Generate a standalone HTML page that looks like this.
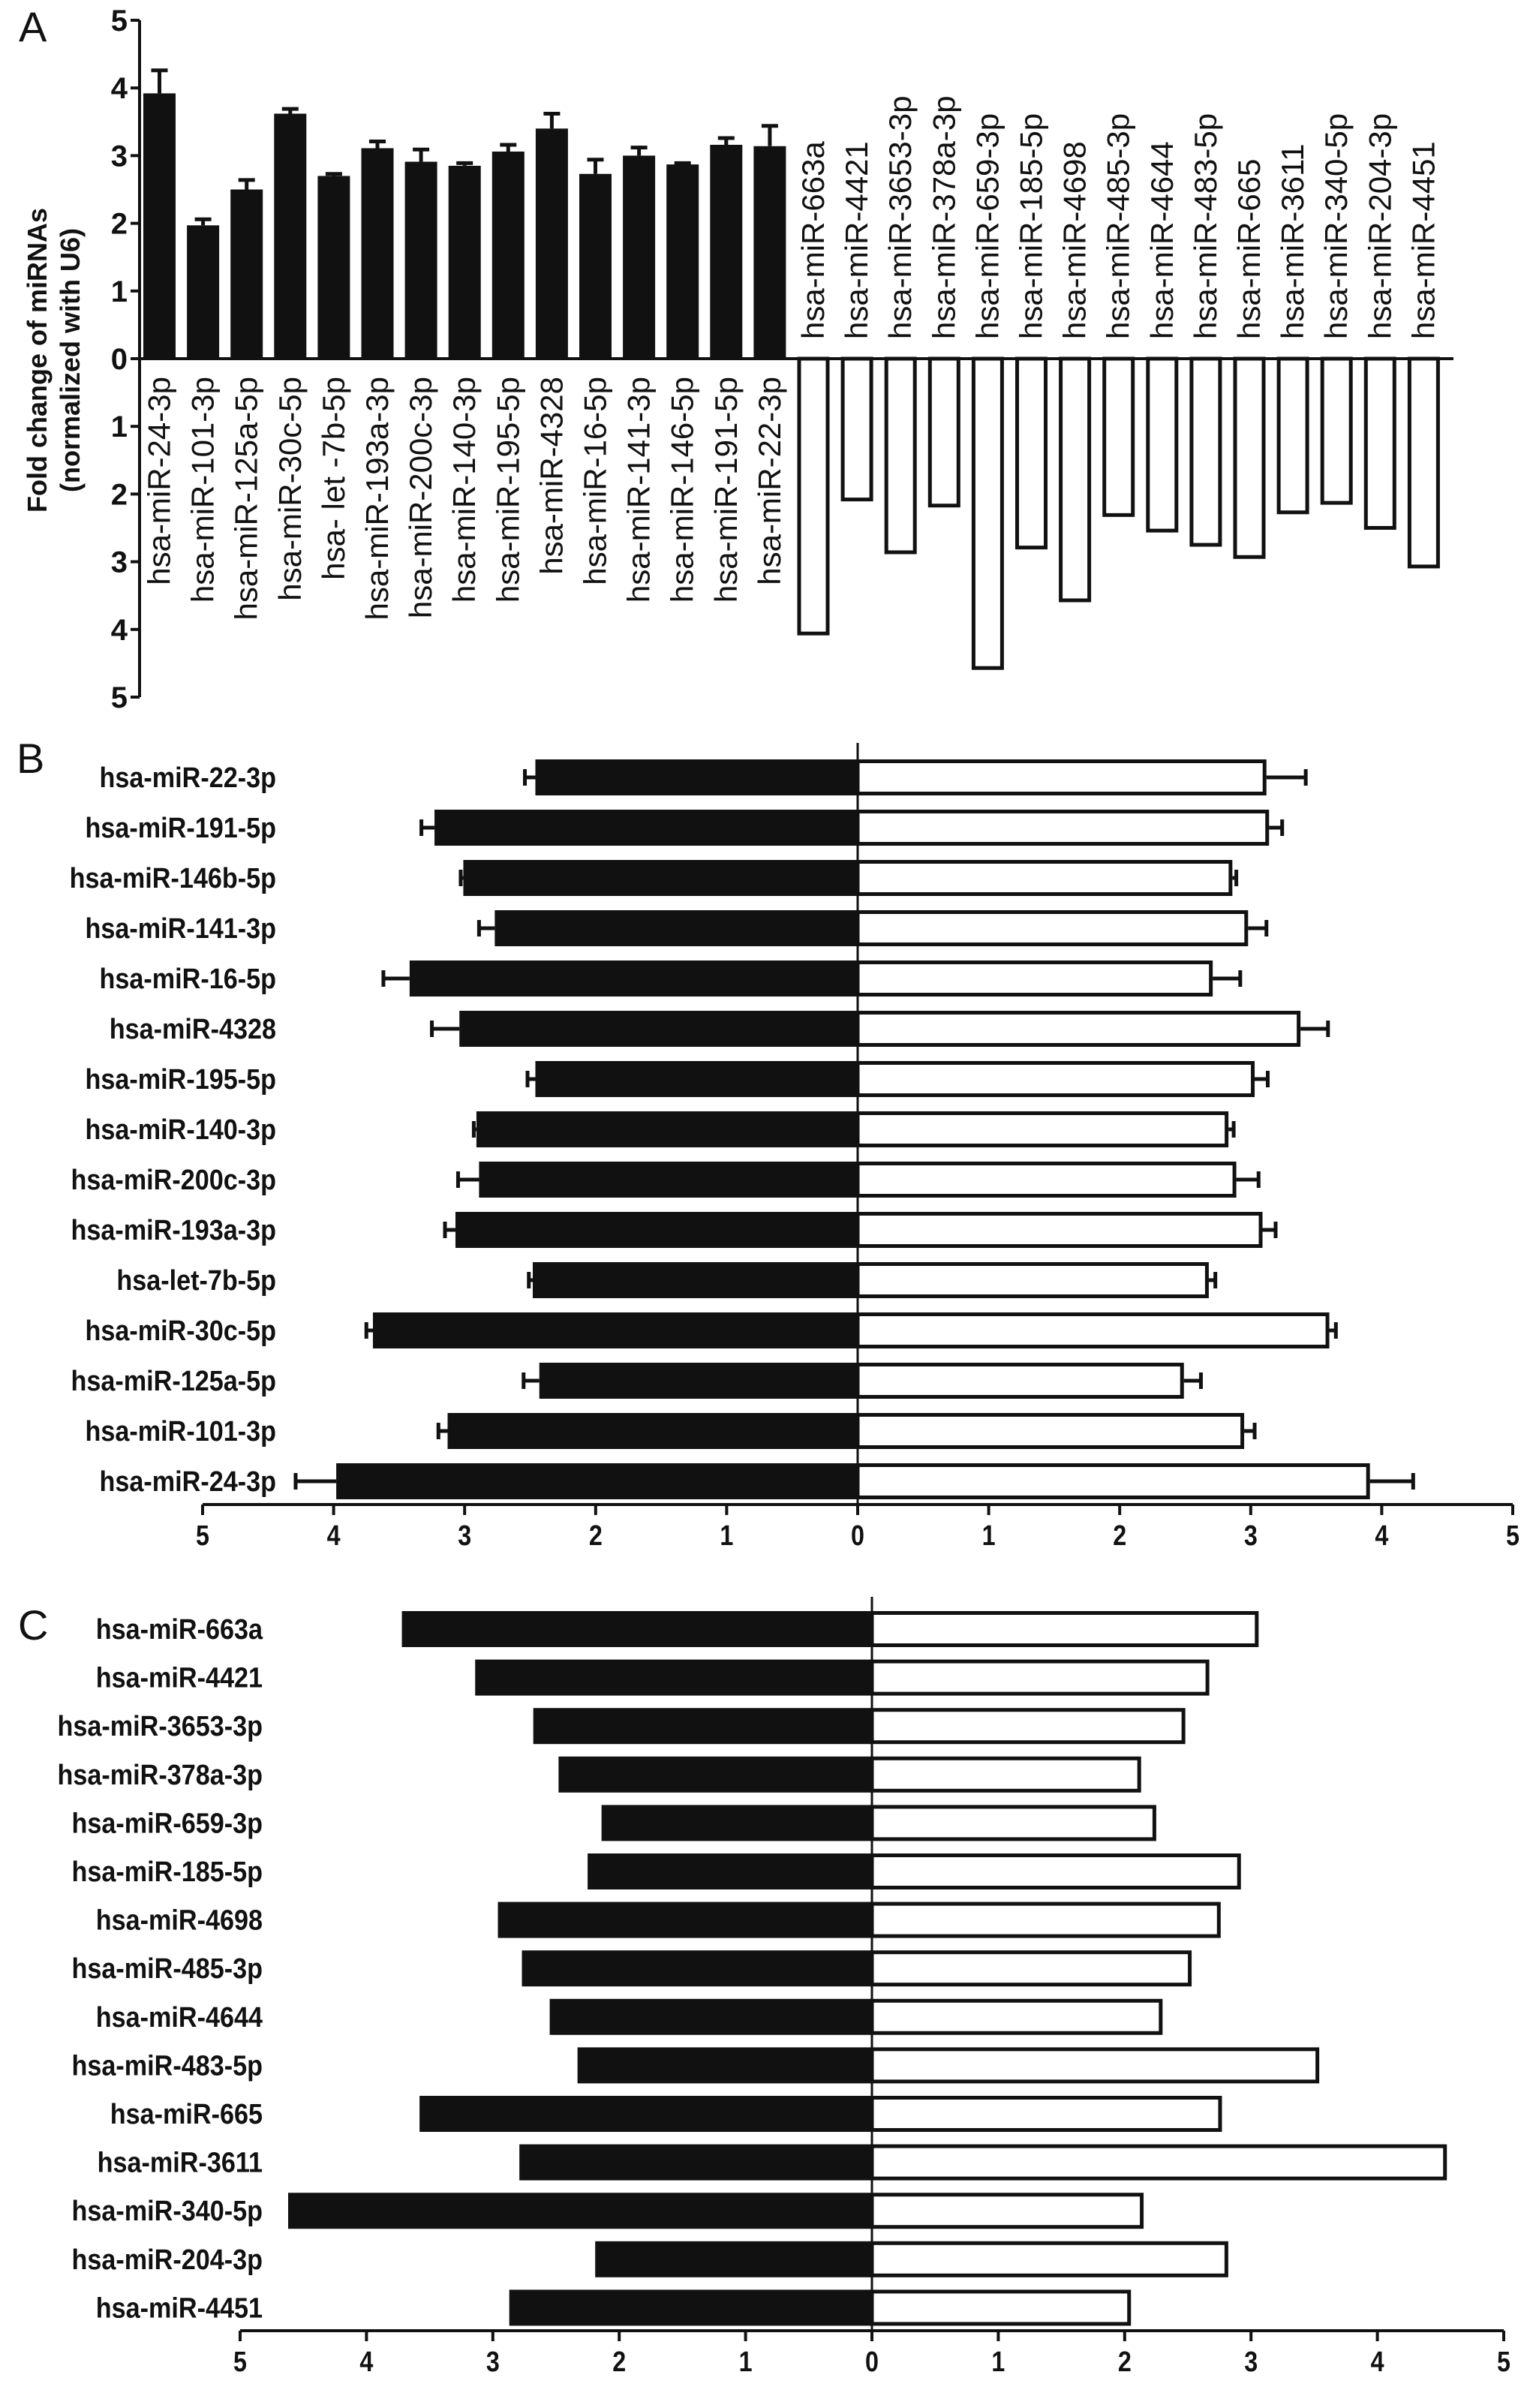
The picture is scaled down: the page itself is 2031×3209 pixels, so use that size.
<!DOCTYPE html>
<html><head><meta charset="utf-8"><style>
html,body{margin:0;padding:0;background:#fff}
svg{display:block}
text{font-family:"Liberation Sans",Arial,sans-serif;fill:#111}
</style></head><body>
<svg id="chart" width="2031" height="3209" viewBox="0 0 2031 3209" xmlns="http://www.w3.org/2000/svg">
<rect x="0" y="0" width="2031" height="3209" fill="#fff"/>
<text x="25" y="55" font-size="56">A</text>
<text x="22" y="1030" font-size="56">B</text>
<text x="24" y="2185" font-size="56">C</text>
<g transform="translate(62,480) rotate(-90)">
<text x="0" y="0" text-anchor="middle" font-size="36" font-weight="bold">Fold change of miRNAs</text>
<text x="0" y="44" text-anchor="middle" font-size="36" font-weight="bold">(normalized with U6)</text>
</g>
<g id="pa"></g><g id="pb"></g><g id="pc"></g>
</svg>
<script>
const aUpLabels=["hsa-miR-24-3p","hsa-miR-101-3p","hsa-miR-125a-5p","hsa-miR-30c-5p","hsa- let -7b-5p","hsa-miR-193a-3p","hsa-miR-200c-3p","hsa-miR-140-3p","hsa-miR-195-5p","hsa-miR-4328","hsa-miR-16-5p","hsa-miR-141-3p","hsa-miR-146-5p","hsa-miR-191-5p","hsa-miR-22-3p"];
const aUpValues=[3.92,1.97,2.5,3.62,2.7,3.11,2.91,2.85,3.06,3.4,2.73,3.0,2.87,3.16,3.14];
const aUpErrors=[0.34,0.09,0.14,0.07,0.03,0.1,0.18,0.04,0.1,0.22,0.21,0.12,0.02,0.1,0.3];
const aDownLabels=["hsa-miR-663a","hsa-miR-4421","hsa-miR-3653-3p","hsa-miR-378a-3p","hsa-miR-659-3p","hsa-miR-185-5p","hsa-miR-4698","hsa-miR-485-3p","hsa-miR-4644","hsa-miR-483-5p","hsa-miR-665","hsa-miR-3611","hsa-miR-340-5p","hsa-miR-204-3p","hsa-miR-4451"];
const aDownValues=[4.06,2.08,2.86,2.17,4.57,2.79,3.57,2.31,2.54,2.75,2.93,2.27,2.13,2.5,3.07];
const aTicks=[5,4,3,2,1,0,1,2,3,4,5];

const bLabels=["hsa-miR-22-3p","hsa-miR-191-5p","hsa-miR-146b-5p","hsa-miR-141-3p","hsa-miR-16-5p","hsa-miR-4328","hsa-miR-195-5p","hsa-miR-140-3p","hsa-miR-200c-3p","hsa-miR-193a-3p","hsa-let-7b-5p","hsa-miR-30c-5p","hsa-miR-125a-5p","hsa-miR-101-3p","hsa-miR-24-3p"];
const bLeftValues=[2.46,3.23,3.01,2.77,3.42,3.04,2.46,2.91,2.89,3.07,2.48,3.70,2.43,3.13,3.98];
const bLeftErrors=[0.08,0.1,0.02,0.12,0.2,0.21,0.06,0.02,0.16,0.08,0.03,0.05,0.12,0.07,0.31];
const bRightValues=[3.12,3.14,2.86,2.98,2.71,3.38,3.03,2.83,2.89,3.09,2.68,3.6,2.49,2.95,3.91];
const bRightErrors=[0.3,0.1,0.03,0.14,0.21,0.21,0.1,0.04,0.17,0.1,0.05,0.05,0.13,0.08,0.33];

const cLabels=["hsa-miR-663a","hsa-miR-4421","hsa-miR-3653-3p","hsa-miR-378a-3p","hsa-miR-659-3p","hsa-miR-185-5p","hsa-miR-4698","hsa-miR-485-3p","hsa-miR-4644","hsa-miR-483-5p","hsa-miR-665","hsa-miR-3611","hsa-miR-340-5p","hsa-miR-204-3p","hsa-miR-4451"];
const cLeftValues=[3.72,3.14,2.68,2.48,2.14,2.25,2.96,2.77,2.55,2.33,3.58,2.79,4.62,2.19,2.87];
const cRightValues=[3.06,2.67,2.48,2.13,2.25,2.92,2.76,2.53,2.3,3.54,2.77,4.55,2.15,2.82,2.05];
const hTicks=[5,4,3,2,1,0,1,2,3,4,5];

const NS="http://www.w3.org/2000/svg";
function mk(parent,tag,attrs){const e=document.createElementNS(NS,tag);for(const k in attrs)e.setAttribute(k,attrs[k]);parent.appendChild(e);return e;}

// Panel A
(function(){
const g=document.getElementById('pa');
const axX=186, zeroY=478, unit=90.2, x0=191, pitch=58.1, bw=43;
const yUp=v=>zeroY-v*unit, yDn=v=>zeroY+v*unit;
let ax=mk(g,'line',{x1:axX,y1:yUp(5),x2:axX,y2:yDn(5),stroke:'#111','stroke-width':4});


aTicks.forEach((t,i)=>{const y=i<5?yUp(t):yDn(t);
 let tl=mk(g,'line',{x1:axX-12,y1:y,x2:axX,y2:y,stroke:'#111','stroke-width':4});
 
 
 let tx=mk(g,'text',{x:axX-16,y:y+14,'text-anchor':'end','font-size':40,'font-weight':'bold'});tx.textContent=t;
 
 });
aUpValues.forEach((v,i)=>{const x=x0+i*pitch, cx=x+bw/2;
 let er=mk(g,'path',{d:`M${cx} ${yUp(v)} V${yUp(v+aUpErrors[i])} M${cx-11} ${yUp(v+aUpErrors[i])} H${cx+11}`,stroke:'#111','stroke-width':5,fill:'none'});
 
 
 let r=mk(g,'rect',{x:x,y:yUp(v),width:bw,height:v*unit,fill:'#111'});
 
 
 let t=mk(g,'text',{transform:`translate(${cx+14},${zeroY+24}) rotate(-90)`,'text-anchor':'end','font-size':42});t.textContent=aUpLabels[i];
 
 });
aDownValues.forEach((v,i)=>{const x=x0+(i+15)*pitch, cx=x+bw/2;
 let r=mk(g,'rect',{x:x+2.5,y:zeroY,width:bw-5,height:v*unit,fill:'#fff',stroke:'#111','stroke-width':5});
 
 
 let t=mk(g,'text',{transform:`translate(${cx+14},${zeroY-26}) rotate(-90)`,'text-anchor':'start','font-size':42});t.textContent=aDownLabels[i];
 
 });
let zl=mk(g,'line',{x1:axX,y1:zeroY,x2:1937,y2:zeroY,stroke:'#111','stroke-width':4});


})();

function hPanel(gid,labels,lv,le,rv,re,cfg,prefix){
const g=document.getElementById(gid);
const unit=(cfg.right-cfg.left)/10, zx=cfg.left+5*unit;
const xL=v=>zx-v*unit, xR=v=>zx+v*unit, yc=i=>cfg.y0+i*cfg.pitch, bh=48;
labels.forEach((lab,i)=>{const y=yc(i);
 if(le){let e=mk(g,'path',{d:`M${xL(lv[i])} ${y} H${xL(lv[i]+le[i])} M${xL(lv[i]+le[i])} ${y-11} V${y+11}`,stroke:'#111','stroke-width':5,fill:'none'});
  
  }
 if(re){let e=mk(g,'path',{d:`M${xR(rv[i])} ${y} H${xR(rv[i]+re[i])} M${xR(rv[i]+re[i])} ${y-11} V${y+11}`,stroke:'#111','stroke-width':5,fill:'none'});
  
  }
 let b=mk(g,'rect',{x:xL(lv[i]),y:y-bh/2,width:lv[i]*unit,height:bh,fill:'#111'});
 
 
 let w=mk(g,'rect',{x:zx,y:y-bh/2+2.5,width:rv[i]*unit-2.5,height:bh-5,fill:'#fff',stroke:'#111','stroke-width':5});
 
 
 let t=mk(g,'text',{transform:`translate(${cfg.labelX},${y+13}) scale(0.9,1)`,'text-anchor':'end','font-size':38,'font-weight':'bold'});t.textContent=lab;
 
 });
let z=mk(g,'line',{x1:zx,y1:cfg.zTop,x2:zx,y2:cfg.axisY,stroke:'#111','stroke-width':3});


let a=mk(g,'line',{x1:cfg.left,y1:cfg.axisY,x2:cfg.right,y2:cfg.axisY,stroke:'#111','stroke-width':4});


hTicks.forEach((t,i)=>{const x=cfg.left+i*unit;
 let tl=mk(g,'line',{x1:x,y1:cfg.axisY,x2:x,y2:cfg.axisY+14,stroke:'#111','stroke-width':4});
 
 
 let tx=mk(g,'text',{transform:`translate(${x},${cfg.axisY+54}) scale(0.85,1)`,'text-anchor':'middle','font-size':38,'font-weight':'bold'});tx.textContent=t;
 
 });
}
hPanel('pb',bLabels,bLeftValues,bLeftErrors,bRightValues,bRightErrors,{left:270,right:2016,y0:1036,pitch:67.0,axisY:2005,zTop:990,labelX:368},'panel-b');
hPanel('pc',cLabels,cLeftValues,null,cRightValues,null,{left:320,right:2004,y0:2171,pitch:64.6,axisY:3106,zTop:2128,labelX:350},'panel-c');
</script>
</body></html>
